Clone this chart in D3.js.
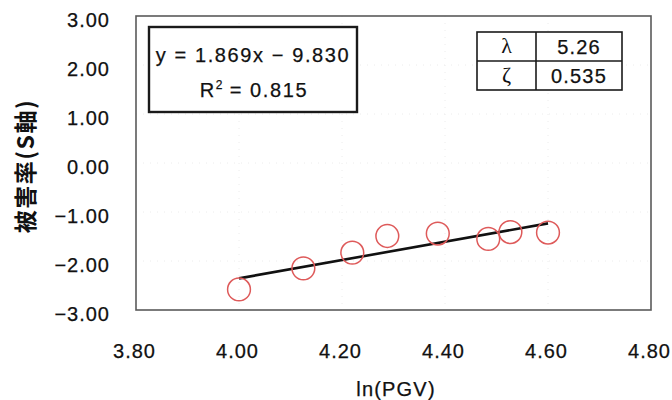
<!DOCTYPE html>
<html>
<head>
<meta charset="utf-8">
<script src="https://cdn.jsdelivr.net/npm/d3@7"></script>
<style>
  html, body { margin: 0; padding: 0; background: #fff; }
  svg { display: block; }
  .num { font-family: "Liberation Sans", Arial, sans-serif; fill: #111; stroke: #111; stroke-width: 0.25px; }
</style>
</head>
<body>
<svg id="chart" width="672" height="400"></svg>
<script>
// Observed damage rate (S axis) against ln(PGV)
const lnPGV = [4.000, 4.125, 4.220, 4.288, 4.386, 4.484, 4.527, 4.600];
const damageRate = [-2.58, -2.15, -1.83, -1.49, -1.44, -1.55, -1.41, -1.42];

// Linear fit shown in the equation box
const fitSlope = 1.869;
const fitIntercept = -9.830;
const fitR2 = 0.815;

// Fragility parameters table
const paramSymbols = ["λ", "ζ"];
const paramValues = ["5.26", "0.535"];

const xTicks = [3.8, 4.0, 4.2, 4.4, 4.6, 4.8];
const yTicks = [3, 2, 1, 0, -1, -2, -3];

const svg = d3.select("#chart");
const plot = { left: 136, right: 651, top: 16, bottom: 310 };

const x = d3.scaleLinear().domain([3.8, 4.8]).range([plot.left, plot.right]);
const y = d3.scaleLinear().domain([-3, 3]).range([plot.bottom, plot.top]);

// faint dotted grid
const grid = svg.append("g").attr("stroke", "#ececec").attr("stroke-width", 1)
  .attr("stroke-dasharray", "1,6");
grid.selectAll("line.v").data(xTicks.slice(1, -1)).join("line")
  .attr("x1", d => x(d)).attr("x2", d => x(d))
  .attr("y1", plot.top).attr("y2", plot.bottom);
grid.selectAll("line.h").data(yTicks.slice(1, -1)).join("line")
  .attr("x1", plot.left).attr("x2", plot.right)
  .attr("y1", d => y(d)).attr("y2", d => y(d));

// plot frame
svg.append("rect")
  .attr("x", plot.left).attr("y", plot.top)
  .attr("width", plot.right - plot.left).attr("height", plot.bottom - plot.top)
  .attr("fill", "none").attr("stroke", "#5a5a5a").attr("stroke-width", 1.6);

// axes (labels only, no tick marks)
const fmt = d => d3.format(".2f")(d).replace("-", "−");
const yAxis = d3.axisLeft(y).tickValues(yTicks).tickFormat(fmt).tickSize(0).tickPadding(0);
const yg = svg.append("g").attr("transform", `translate(${plot.left - 27},4)`).call(yAxis);
const xAxis = d3.axisBottom(x).tickValues(xTicks).tickFormat(fmt).tickSize(0).tickPadding(0);
const xg = svg.append("g").attr("transform", `translate(-2,${plot.bottom + 34})`).call(xAxis);
[yg, xg].forEach(g => {
  g.select(".domain").remove();
  g.selectAll("text")
    .attr("class", "num")
    .attr("fill", null)
    .style("font-size", "20px")
    .style("letter-spacing", "1px");
});
yg.selectAll("text").attr("dx", "1px");

// axis titles
svg.append("text")
  .attr("class", "num")
  .attr("x", 396).attr("y", 396)
  .attr("text-anchor", "middle")
  .style("font-size", "20px")
  .style("letter-spacing", "1.2px")
  .text("ln(PGV)");

svg.append("text")
  .attr("transform", "translate(34,166) rotate(-90)")
  .attr("text-anchor", "middle")
  .style("font-family", "'Noto Sans CJK JP', sans-serif")
  .style("font-weight", "bold")
  .style("font-size", "23px")
  .style("letter-spacing", "1.5px")
  .style("fill", "#111")
  .text("被害率(S軸)");

// regression line across the observed range
const xr = d3.extent(lnPGV);
svg.append("line")
  .attr("x1", x(xr[0])).attr("y1", y(fitSlope * xr[0] + fitIntercept))
  .attr("x2", x(xr[1])).attr("y2", y(fitSlope * xr[1] + fitIntercept))
  .attr("stroke", "#111").attr("stroke-width", 2.6);

// observed points
svg.append("g").selectAll("circle")
  .data(lnPGV.map((v, i) => [v, damageRate[i]]))
  .join("circle")
  .attr("cx", d => x(d[0])).attr("cy", d => y(d[1]))
  .attr("r", 11.4)
  .attr("fill", "none").attr("stroke", "#de5a5a").attr("stroke-width", 1.5);

// equation box
svg.append("rect")
  .attr("x", 149).attr("y", 27).attr("width", 208).attr("height", 85)
  .attr("fill", "#fff").attr("stroke", "#1a1a1a").attr("stroke-width", 2.4);
svg.append("text")
  .attr("class", "num")
  .attr("x", 253).attr("y", 62)
  .attr("text-anchor", "middle")
  .style("font-size", "20px")
  .style("letter-spacing", "1.6px")
  .text(`y = ${fitSlope.toFixed(3)}x − ${Math.abs(fitIntercept).toFixed(3)}`);
const r2 = svg.append("text")
  .attr("class", "num")
  .attr("x", 254).attr("y", 97)
  .attr("text-anchor", "middle")
  .style("font-size", "20px")
  .style("letter-spacing", "1.6px");
r2.append("tspan").text("R");
r2.append("tspan").attr("dy", -8).style("font-size", "12px").style("letter-spacing", "0px").text("2");
r2.append("tspan").attr("dy", 8).text(` = ${fitR2.toFixed(3)}`);

// parameter table
const tbl = { x0: 477, xMid: 536, x1: 622, y0: 32, rowH: 29 };
const tg = svg.append("g");
tg.append("rect")
  .attr("x", tbl.x0).attr("y", tbl.y0)
  .attr("width", tbl.x1 - tbl.x0).attr("height", tbl.rowH * paramSymbols.length)
  .attr("fill", "#fff").attr("stroke", "#1a1a1a").attr("stroke-width", 1.6);
tg.append("line")
  .attr("x1", tbl.xMid).attr("x2", tbl.xMid)
  .attr("y1", tbl.y0).attr("y2", tbl.y0 + tbl.rowH * paramSymbols.length)
  .attr("stroke", "#1a1a1a").attr("stroke-width", 1.6);
tg.selectAll("line.row").data(d3.range(1, paramSymbols.length)).join("line")
  .attr("x1", tbl.x0).attr("x2", tbl.x1)
  .attr("y1", d => tbl.y0 + d * tbl.rowH).attr("y2", d => tbl.y0 + d * tbl.rowH)
  .attr("stroke", "#1a1a1a").attr("stroke-width", 1.6);
tg.selectAll("text.sym").data(paramSymbols).join("text")
  .attr("x", (tbl.x0 + tbl.xMid) / 2)
  .attr("y", (d, i) => tbl.y0 + i * tbl.rowH + 21)
  .attr("text-anchor", "middle")
  .style("font-family", "'Liberation Serif', 'DejaVu Serif', serif")
  .style("font-size", "22px")
  .style("fill", "#111")
  .text(d => d);
tg.selectAll("text.val").data(paramValues).join("text")
  .attr("class", "num")
  .attr("x", (tbl.xMid + tbl.x1) / 2)
  .attr("y", (d, i) => tbl.y0 + i * tbl.rowH + 22)
  .attr("text-anchor", "middle")
  .style("font-size", "20px")
  .style("letter-spacing", "1.2px")
  .text(d => d);
</script>
</body>
</html>
